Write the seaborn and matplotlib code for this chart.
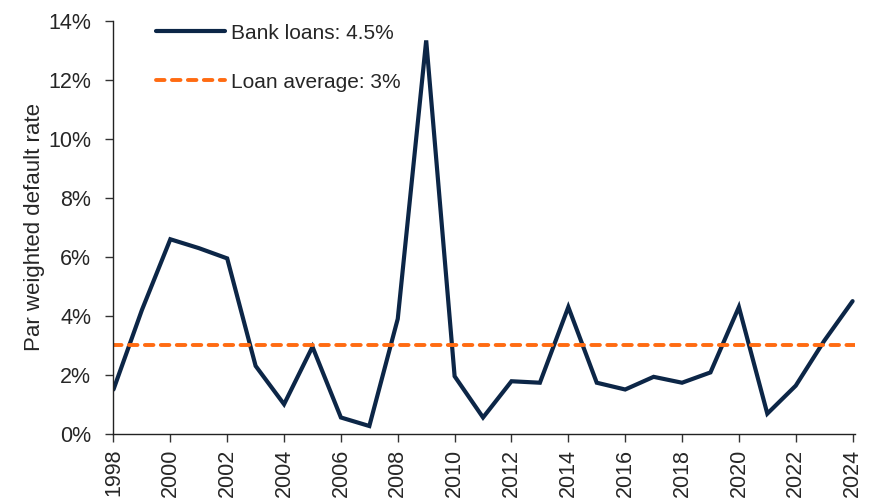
import matplotlib
matplotlib.use("Agg")
import matplotlib.pyplot as plt
from matplotlib import font_manager
from matplotlib.ticker import FuncFormatter
import pandas as pd
import seaborn as sns

# Annual par-weighted default rate for bank loans
years = list(range(1998, 2025))
default_rate = [1.5, 4.2, 6.6, 6.3, 5.95, 2.3, 1.0, 2.95, 0.55, 0.26,
                3.9, 13.35, 1.95, 0.55, 1.78, 1.73, 4.3, 1.73, 1.5, 1.93,
                1.73, 2.08, 4.3, 0.68, 1.63, 3.15, 4.5]
loan_average = 3.0
series_labels = ["Bank loans: 4.5%", "Loan average: 3%"]
y_ticks = [0, 2, 4, 6, 8, 10, 12, 14]
x_ticks = list(range(1998, 2025, 2))

navy = "#0C2647"
orange = "#FF6B12"

sns.set_style("ticks")
installed = {f.name for f in font_manager.fontManager.ttflist}
family = ["Liberation Sans Narrow", "Liberation Sans", "DejaVu Sans"]
plt.rcParams["font.family"] = [f for f in family if f in installed] or ["DejaVu Sans"]

df = pd.DataFrame({"year": years, "rate": default_rate})
avg_df = pd.DataFrame({"year": [years[0], years[-1] + 0.08],
                       "rate": [loan_average, loan_average]})

fig = plt.figure(figsize=(8.75, 5.03), dpi=100)
ax = fig.add_axes([0.1297, 0.1378, 0.977 - 0.1297, 0.9577 - 0.1378])

sns.lineplot(data=df, x="year", y="rate", ax=ax, color=navy, linewidth=3.0,
             label=series_labels[0], solid_joinstyle="miter")
sns.lineplot(data=avg_df, x="year", y="rate", ax=ax, color=orange, linewidth=2.8,
             label=series_labels[1], dashes=False)
avg_line = ax.get_lines()[-1]
avg_line.set_dashes((2.2, 1.9))
avg_line.set_dash_capstyle("round")

ax.set_xlim(1998, 2024.08)
ax.set_ylim(0, 14)
ax.set_yticks(y_ticks)
ax.yaxis.set_major_formatter(FuncFormatter(lambda v, _: f"{v:.0f}%"))
ax.set_xticks(x_ticks)
ax.set_xticklabels([str(y) for y in x_ticks], rotation=90)
ax.tick_params(axis="both", labelsize=15.5, length=6, width=1.0, color="#333333")
ax.tick_params(axis="y", pad=10)
ax.tick_params(axis="x", pad=5)
ax.set_xlabel("")
ax.set_ylabel("Par weighted default rate", fontsize=16, labelpad=2.5)

for side in ("top", "right"):
    ax.spines[side].set_visible(False)
for side in ("left", "bottom"):
    ax.spines[side].set_color("#222222")
    ax.spines[side].set_linewidth(1.0)

leg = ax.legend(loc="upper left", bbox_to_anchor=(0.032, 1.04), frameon=False,
                fontsize=15, handlelength=3.3, handletextpad=0.3,
                labelspacing=1.45)

fig.savefig("out.png", dpi=100)
